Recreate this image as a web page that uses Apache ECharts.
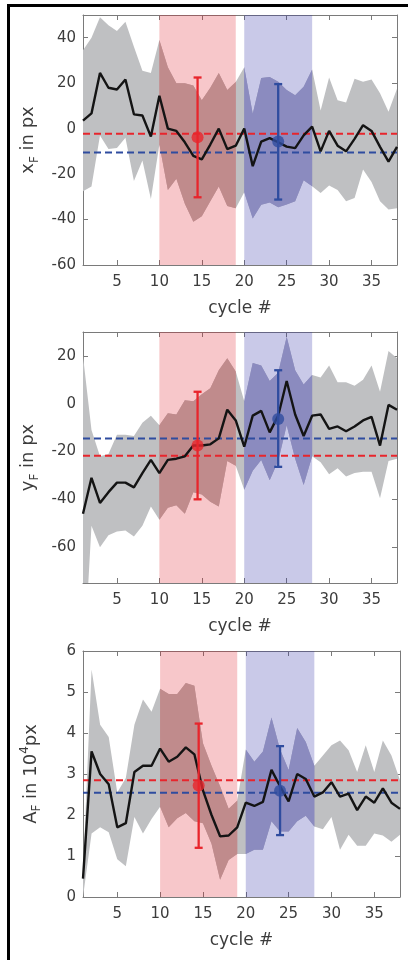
<!DOCTYPE html>
<html>
<head>
<meta charset="utf-8">
<title>cycle #</title>
<script src="https://cdn.jsdelivr.net/npm/echarts@6/dist/echarts.min.js"></script>
<style>
  html, body { margin: 0; padding: 0; background: #fff; }
  #chart { width: 408px; height: 960px; }
</style>
</head>
<body>
<div id="chart"></div>
<script>
// 周期编号
const cycles = [1, 2, 3, 4, 5, 6, 7, 8, 9, 10, 11, 12, 13, 14, 15, 16, 17, 18, 19, 20,
    21, 22, 23, 24, 25, 26, 27, 28, 29, 30, 31, 32, 33, 34, 35, 36, 37, 38];
const cycleMin = 1;
const cycleMax = 38;
const cycleTicks = [5, 10, 15, 20, 25, 30, 35];

// x_F (px): 均值与上下包络
const xMean = [3.5, 6.7, 24.5, 18, 17.2, 21.6, 6.3, 5.8, -3.5, 14.5,
    0, -1, -6, -12, -13.5, -7, 0, -9, -7.5, 0,
    -16.5, -5.7, -4.2, -6, -7.9, -8.6, -3, 0.9, -10, -1,
    -7.5, -10, -4.5, 1.5, -1, -8, -14.5, -8];
const xUpper = [34.5, 40, 49, 45.5, 43, 47, 36, 25.5, 24.5, 39,
    27, 20, 20, 19, 12.5, 18, 24.5, 17, 20.5, 27,
    6.5, 22.3, 22.7, 20.6, 17, 14.7, 18.4, 26, 8, 22.5,
    12.5, 11.5, 22, 20.6, 21.6, 15.6, 7.4, 17.6];
const xLower = [-27.5, -25.5, -3, -9, -8.5, -4, -23, -14, -31, -7,
    -27, -22, -33, -41, -38.5, -32, -25.5, -34, -35, -28,
    -39.5, -33.5, -32.5, -34.6, -33.4, -32, -22.7, -25.4, -28.3, -25,
    -27, -32, -30.5, -18, -23.5, -32, -35.6, -35];
const xErrRed = [14.5, -3.8, -30.2, 22.5];   // x, 均值, 下限, 上限
const xErrBlue = [24, -5.7, -31.2, 19.6];
const xLevels = [-2.3, -10.5];               // 红, 蓝
const xTicks = [-60, -40, -20, 0, 20, 40];

// y_F (px)
const yMean = [-46, -31, -41.5, -37, -33, -33, -35, -29, -23.5, -29,
    -23.5, -23, -22, -17.5, -17.5, -17, -14.5, -2.5, -7, -18,
    -5, -3, -12, -5, 9.5, -4.5, -13.5, -5, -4.5, -10.5,
    -9.5, -11.5, -9.5, -7, -5.5, -17.5, -0.5, -2.5];
const yUpper = [20, -11, -22, -21, -13, -13, -13.5, -8, -5, -9,
    -4, -4.5, 1.5, 1, 4, 6.5, 14, 19, 13.5, 1,
    17, 16, 9.5, 13, 28, 14, 8, 12, 11, 16,
    9, 9, 7.5, 10, 16, 5, 22, 19];
const yLower = [-115, -51, -60, -55, -53.5, -53, -55.5, -51, -43, -48.5,
    -43.5, -42.5, -46, -37, -38, -41, -43, -24, -26, -36,
    -28, -23.5, -32, -24, -9, -23, -34, -22, -24.5, -29.5,
    -27, -30.5, -29, -28.5, -28.5, -39.5, -24, -23];
const yErrRed = [14.5, -17.5, -40, 5];
const yErrBlue = [24, -6.4, -26.4, 14];
const yLevels = [-21.8, -14.5];
const yTicks = [-60, -40, -20, 0, 20];

// A_F (10^4 px)
const aMean = [0.45, 3.55, 3.0, 2.75, 1.7, 1.8, 3.05, 3.2, 3.2, 3.62,
    3.3, 3.42, 3.65, 3.48, 2.6, 2.0, 1.48, 1.5, 1.7, 2.3,
    2.22, 2.32, 3.1, 2.7, 2.33, 3.0, 2.88, 2.45, 2.55, 2.8,
    2.45, 2.52, 2.12, 2.45, 2.3, 2.65, 2.3, 2.15];
const aUpper = [0.6, 5.55, 4.2, 3.9, 2.55, 2.9, 4.2, 4.82, 4.52, 5.08,
    4.95, 4.95, 5.22, 5.15, 3.75, 3.2, 2.7, 2.15, 2.35, 3.6,
    3.3, 3.55, 4.38, 3.6, 3.1, 4.12, 3.78, 3.2, 3.45, 3.7,
    3.82, 3.58, 3.05, 3.7, 3.05, 3.82, 3.45, 2.85];
const aLower = [0.0, 1.55, 1.7, 1.58, 0.92, 0.75, 1.95, 1.55, 1.9, 2.2,
    1.7, 1.92, 2.05, 1.85, 1.8, 1.3, 0.42, 0.9, 1.05, 1.05,
    1.15, 1.15, 1.85, 1.6, 1.6, 1.85, 1.98, 1.72, 1.65, 1.95,
    1.15, 1.52, 1.25, 1.25, 1.55, 1.5, 1.35, 1.52];
const aErrRed = [14.5, 2.72, 1.2, 4.23];
const aErrBlue = [24, 2.59, 1.51, 3.68];
const aLevels = [2.85, 2.54];
const aTicks = [0, 1, 2, 3, 4, 5, 6];

// 阴影时间窗
const windowRed = [10, 19];
const windowBlue = [20, 28];

document.addEventListener('DOMContentLoaded', function() {
    const chart = echarts.init(document.getElementById('chart'), null, { renderer: 'canvas' });

    const font = 'DejaVu Sans, Liberation Sans, Arial, sans-serif';
    const axisColor = '#7a7a7a';
    const labelColor = '#3c3c3c';
    const bandGray = '#bfc0c2';
    const red = '#e8252c';
    const blue = '#2f4c9f';
    const windowFills = ['rgba(225, 30, 45, 0.25)', 'rgba(45, 45, 165, 0.26)'];
    const overlapFills = ['#c08b8c', '#8b8bbf'];

    const nameRich = {
        i: { fontSize: 18, lineHeight: 24, color: labelColor, fontFamily: font },
        s: { fontSize: 12, lineHeight: 12, verticalAlign: 'bottom', color: labelColor, fontFamily: font },
        p: { fontSize: 12, lineHeight: 12, verticalAlign: 'top', color: labelColor, fontFamily: font }
    };

    const panels = [
        { mean: xMean, upper: xUpper, lower: xLower, errRed: xErrRed, errBlue: xErrBlue,
          levels: xLevels, ticks: xTicks, min: -60, max: 50,
          name: '{i|x}{s|F}{i| in px}' },
        { mean: yMean, upper: yUpper, lower: yLower, errRed: yErrRed, errBlue: yErrBlue,
          levels: yLevels, ticks: yTicks, min: -75, max: 30,
          name: '{i|y}{s|F}{i| in px}' },
        { mean: aMean, upper: aUpper, lower: aLower, errRed: aErrRed, errBlue: aErrBlue,
          levels: aLevels, ticks: aTicks, min: 0, max: 6,
          name: '{i|A}{s|F}{i| in 10}{p|4}{i|px}' }
    ];

    const grids = [
        { left: 83, top: 15, width: 314, height: 250 },
        { left: 83, top: 332, width: 314, height: 251 },
        { left: 83, top: 651, width: 317, height: 246 }
    ];

    const xAxes = [];
    const yAxes = [];
    const series = [];

    function clipRect(cs) {
        return { type: 'rect', shape: { x: cs.x, y: cs.y, width: cs.width, height: cs.height } };
    }

    function bandPoints(params, api) {
        const n = params.dataInsideLength;
        const pts = [];
        for (let k = 0; k < n; k++) {
            pts.push(api.coord([api.value(0, k), api.value(2, k)]));
        }
        for (let k = n - 1; k >= 0; k--) {
            pts.push(api.coord([api.value(0, k), api.value(1, k)]));
        }
        return pts;
    }

    // 灰色包络: 整条多边形只在第一个数据项上画
    function renderBand(params, api) {
        if (params.dataIndexInside !== 0) return null;
        return {
            type: 'polygon',
            shape: { points: bandPoints(params, api) },
            style: { fill: bandGray },
            clipPath: clipRect(params.coordSys)
        };
    }

    // 包络与时间窗重叠处的颜色
    function renderOverlap(params, api) {
        if (params.dataIndexInside !== 0) return null;
        const pts = bandPoints(params, api);
        const cs = params.coordSys;
        const children = [windowRed, windowBlue].map(function(w, k) {
            const x0 = api.coord([w[0], 0])[0];
            const x1 = api.coord([w[1], 0])[0];
            return {
                type: 'polygon',
                shape: { points: pts },
                style: { fill: overlapFills[k] },
                clipPath: { type: 'rect', shape: { x: x0, y: cs.y, width: x1 - x0, height: cs.height } }
            };
        });
        return { type: 'group', children: children };
    }

    // 时间窗矩形
    function renderWindow(params, api) {
        const cs = params.coordSys;
        const x0 = api.coord([api.value(0), 0])[0];
        const x1 = api.coord([api.value(1), 0])[0];
        return {
            type: 'rect',
            shape: { x: x0, y: cs.y, width: x1 - x0, height: cs.height },
            style: { fill: windowFills[api.value(2)] }
        };
    }

    // 误差棒
    function renderErrorBar(params, api) {
        const lo = api.coord([api.value(0), api.value(1)]);
        const hi = api.coord([api.value(0), api.value(2)]);
        const half = 4;
        const style = { stroke: [red, blue][api.value(3)], lineWidth: 2.3 };
        return {
            type: 'group',
            children: [
                { type: 'line', shape: { x1: lo[0], y1: lo[1], x2: hi[0], y2: hi[1] }, style: style },
                { type: 'line', shape: { x1: lo[0] - half, y1: lo[1], x2: lo[0] + half, y2: lo[1] }, style: style },
                { type: 'line', shape: { x1: hi[0] - half, y1: hi[1], x2: hi[0] + half, y2: hi[1] }, style: style }
            ]
        };
    }

    panels.forEach(function(p, i) {
        xAxes.push({
            type: 'value', gridIndex: i, position: 'bottom', min: cycleMin, max: cycleMax,
            name: 'cycle #', nameLocation: 'middle', nameGap: 35,
            nameTextStyle: { fontSize: 17, color: labelColor, fontFamily: font, verticalAlign: 'top' },
            axisLine: { show: true, onZero: false, lineStyle: { color: axisColor, width: 1 } },
            axisTick: { show: true, inside: true, length: 5, customValues: cycleTicks,
                lineStyle: { color: axisColor } },
            axisLabel: { show: true, customValues: cycleTicks, margin: 10,
                fontSize: 15, color: labelColor, fontFamily: font },
            splitLine: { show: false }
        });
        yAxes.push({
            type: 'value', gridIndex: i, position: 'left', min: p.min, max: p.max,
            name: p.name, nameLocation: 'middle', nameRotate: 90, nameGap: 40,
            nameTextStyle: { rich: nameRich },
            axisLine: { show: true, onZero: false, lineStyle: { color: axisColor, width: 1 } },
            axisTick: { show: true, inside: true, length: 5, customValues: p.ticks,
                lineStyle: { color: axisColor } },
            axisLabel: { show: true, customValues: p.ticks, margin: 7,
                fontSize: 15, color: labelColor, fontFamily: font },
            splitLine: { show: false }
        });

        const bandData = cycles.map((c, k) => [c, p.lower[k], p.upper[k]]);

        series.push({
            type: 'custom', xAxisIndex: i, yAxisIndex: i, z: 1, silent: true,
            renderItem: renderBand, encode: { x: 0, y: [1, 2] }, data: bandData
        });

        series.push({
            type: 'custom', xAxisIndex: i, yAxisIndex: i, z: 2, silent: true,
            renderItem: renderWindow,
            data: [[windowRed[0], windowRed[1], 0], [windowBlue[0], windowBlue[1], 1]]
        });

        series.push({
            type: 'custom', xAxisIndex: i, yAxisIndex: i, z: 3, silent: true,
            renderItem: renderOverlap, encode: { x: 0, y: [1, 2] }, data: bandData
        });

        // 参考虚线
        p.levels.forEach(function(lvl, k) {
            series.push({
                type: 'line', xAxisIndex: i, yAxisIndex: i, z: 4, silent: true,
                data: [[cycleMin, lvl], [cycleMax, lvl]], symbol: 'none',
                lineStyle: { color: [red, blue][k], width: 2, type: [7, 4] }
            });
        });

        series.push({
            type: 'line', xAxisIndex: i, yAxisIndex: i, z: 5, silent: true,
            data: cycles.map((c, k) => [c, p.mean[k]]), symbol: 'none',
            lineStyle: { color: '#141414', width: 2.4 }
        });

        series.push({
            type: 'custom', xAxisIndex: i, yAxisIndex: i, z: 6, silent: true,
            renderItem: renderErrorBar,
            data: [[p.errRed[0], p.errRed[2], p.errRed[3], 0],
                   [p.errBlue[0], p.errBlue[2], p.errBlue[3], 1]]
        });

        series.push({
            type: 'scatter', xAxisIndex: i, yAxisIndex: i, z: 7, silent: true,
            symbolSize: 12,
            data: [
                { value: [p.errRed[0], p.errRed[1]], itemStyle: { color: red } },
                { value: [p.errBlue[0], p.errBlue[1]], itemStyle: { color: blue } }
            ]
        });
    });

    // 上方与右侧的边框刻度
    panels.forEach(function(p, i) {
        xAxes.push({
            type: 'value', gridIndex: i, position: 'top', min: cycleMin, max: cycleMax,
            axisLine: { show: true, onZero: false, lineStyle: { color: axisColor, width: 1 } },
            axisTick: { show: true, inside: true, length: 5, customValues: cycleTicks,
                lineStyle: { color: axisColor } },
            axisLabel: { show: false }, splitLine: { show: false }
        });
        yAxes.push({
            type: 'value', gridIndex: i, position: 'right', min: p.min, max: p.max,
            axisLine: { show: true, onZero: false, lineStyle: { color: axisColor, width: 1 } },
            axisTick: { show: true, inside: true, length: 5, customValues: p.ticks,
                lineStyle: { color: axisColor } },
            axisLabel: { show: false }, splitLine: { show: false }
        });
    });

    const option = {
        animation: false,
        backgroundColor: '#fff',
        grid: grids,
        xAxis: xAxes,
        yAxis: yAxes,
        series: series,
        graphic: [
            { type: 'line', z: 100, shape: { x1: 8.5, y1: 5.5, x2: 408, y2: 5.5 },
              style: { stroke: '#000', lineWidth: 3 } },
            { type: 'line', z: 100, shape: { x1: 8.5, y1: 4, x2: 8.5, y2: 960 },
              style: { stroke: '#000', lineWidth: 3 } }
        ]
    };

    chart.setOption(option);

    window.addEventListener('resize', function() {
        chart.resize();
    });
});
</script>
</body>
</html>
